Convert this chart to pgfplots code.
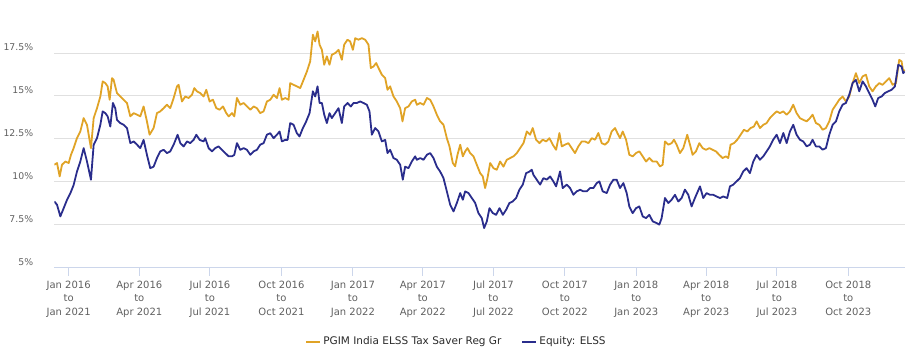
\documentclass[border=0pt]{standalone}
\usepackage{pgfplots}
\pgfplotsset{compat=1.18}
\usepackage{fontspec}
\setmainfont{DejaVu Sans}
\definecolor{gold}{RGB}{224,163,38}
\definecolor{navy}{RGB}{42,45,140}
\definecolor{gridc}{HTML}{E0E0E0}
\definecolor{axisc}{HTML}{CCD6EB}
\definecolor{labc}{HTML}{606060}
\definecolor{legc}{HTML}{2A2A2A}
\begin{document}
\begin{tikzpicture}
\path[use as bounding box] (-54.3pt,-88.5pt) rectangle (861.7pt,267.5pt);
\begin{axis}[
  at={(0,0)}, anchor=south west,
  scale only axis, width=850.7pt, height=247pt,
  xmin=-18.5, xmax=1077, ymin=5, ymax=19.4,
  axis x line*=bottom, axis y line*=left,
  x axis line style={draw=axisc, line width=1pt},
  y axis line style={draw=none},
  ytick={5,7.5,10,12.5,15,17.5},
  yticklabel={\pgfmathprintnumber{\tick}\%},
  ymajorgrids, grid style={draw=gridc, line width=1pt},
  ytick style={draw=none},
  /pgf/number format/assume math mode=true,
  yticklabel style={font=\fontsize{9.3}{10}\selectfont, text=labc, anchor=base east, inner sep=0pt, xshift=-13pt, yshift=2.5pt},
  xtick={0,91,182,274,366,456,547,639,731,821,912,1004},
  xticklabels={{Jan 2016\\to\\Jan 2021},{Apr 2016\\to\\Apr 2021},{Jul 2016\\to\\Jul 2021},{Oct 2016\\to\\Oct 2021},{Jan 2017\\to\\Jan 2022},{Apr 2017\\to\\Apr 2022},{Jul 2017\\to\\Jul 2022},{Oct 2017\\to\\Oct 2022},{Jan 2018\\to\\Jan 2023},{Apr 2018\\to\\Apr 2023},{Jul 2018\\to\\Jul 2023},{Oct 2018\\to\\Oct 2023}},
  xticklabel style={font=\fontsize{10}{13.7}\selectfont, text=labc, align=center, anchor=north, inner sep=0pt, yshift=-5pt},
  xtick style={draw=axisc, line width=1pt},
  tick align=outside, major tick length=8pt,
  legend columns=2,
  legend style={at={(axis description cs:0.4728,-0.3004)}, anchor=center, draw=none, fill=none,
    font=\fontsize{10.5}{12}\selectfont, text=legc,
    /tikz/every even column/.append style={column sep=18pt}},
  legend cell align=left,
  legend image code/.code={\draw[#1, line width=2pt] (0pt,0pt) -- (14pt,0pt);},
]
\addplot[gold, line width=1.8pt, line join=round] coordinates {
(-18.5,10.99) (-15,11.09) (-11.6,10.31) (-8.6,10.99) (-4.3,11.18) (0,11.09) (3,11.57) (6.4,11.96) (10.7,12.54) (15,12.93) (19.3,13.71) (23.6,13.32) (28.7,11.96) (32.2,13.71) (36.5,14.29) (40.8,14.97) (43.8,15.85) (47.2,15.75) (50.2,15.56) (52.8,14.78) (55.8,16.04) (57.9,15.94) (60,15.56) (62.2,15.17) (66.5,14.97) (70.8,14.78) (75.1,14.59) (79.4,13.81) (83.7,14.0) (88,13.91) (92.2,13.81) (96.5,14.39) (100.8,13.52) (104.2,12.74) (109.4,13.13) (113.7,14.0) (118,14.1) (122.3,14.29) (126.6,14.49) (130.8,14.29)
(135.2,14.88) (139.5,15.56) (141.6,15.65) (145.9,14.68) (150.2,14.97) (154.5,14.88) (158.8,15.07) (161.8,15.46) (165.2,15.27) (169.5,15.17) (173.8,14.97) (177.2,15.36) (181.5,14.68) (185.8,14.78) (190.1,14.29) (194.4,14.20) (198.7,14.39) (203,14.0) (206,13.81) (210.3,14.0) (213.3,13.81) (216.7,14.88) (221,14.49) (225.3,14.59) (229.6,14.39) (233.9,14.20) (238.2,14.39) (242.4,14.29) (246.7,14.0) (251,14.10) (255.3,14.68) (259.6,14.78) (263.9,15.07) (268.2,14.88) (271.6,15.46) (274.6,14.78) (278.9,14.88) (283.2,14.78) (285.3,15.75) (289.6,15.65)
(293.9,15.56) (298.2,15.46) (302.5,15.94) (306.8,16.43) (311.0,17.01) (314.5,18.57) (317.5,18.18) (320.5,18.76) (323.1,17.99) (326.1,17.69) (329.1,16.82) (332.5,17.31) (335.9,16.82) (338.9,17.40) (343.2,17.50) (347.5,17.69) (351.8,17.11) (354.8,17.99) (359.1,18.28) (362.5,18.18) (366,17.69) (369,18.37) (373.2,18.28) (377.5,18.37) (381.8,18.28) (386.1,17.99) (389.1,16.63) (392.6,16.72) (396,16.92) (399,16.63) (403.3,16.24) (407.6,16.04) (410.6,15.36) (414,15.56) (418.3,14.97) (422.6,14.68) (426.9,14.29) (429.9,13.52) (433.3,14.29) (437.6,14.39) (441.9,14.68) (446.2,14.78)
(448.4,14.49) (452.7,14.59) (457,14.49) (461.3,14.88) (465.5,14.78) (469.8,14.39) (474.1,13.91) (478.4,13.52) (482.7,13.32) (487,12.54) (490.4,12.06) (494.7,11.09) (497.7,10.90) (500.7,11.57) (504.2,12.16) (507.6,11.48) (510.6,11.77) (513.6,11.96) (517,11.67) (521.3,11.48) (525.6,10.99) (529.9,10.50) (533.3,10.31) (536.3,9.63) (539.3,10.21) (542.8,11.09) (547.1,10.79) (551.3,10.70) (555.6,11.18) (559.9,10.88) (564.2,11.28) (568.5,11.38) (572.8,11.48) (577.1,11.67) (581.4,11.96) (585.7,12.25) (590,12.93) (594.2,12.74)
(597.6,13.13) (601.9,12.45) (606.2,12.25) (610.5,12.45) (614.8,12.35) (619.1,12.54) (623.4,12.16) (627.7,11.86) (632,12.84) (635,12.06) (639.2,12.16) (643.5,12.25) (647.8,11.96) (652.1,11.67) (656.4,12.06) (660.7,12.35) (665,12.35) (669.3,12.25) (673.6,12.54) (677.9,12.45) (682.1,12.84) (686.4,12.25) (690.7,12.16) (695,12.35) (699.3,12.93) (703.6,13.13) (706.6,12.84) (710,12.54) (713.5,12.93) (717.8,12.45) (722.0,11.57) (726.3,11.48) (730.6,11.67) (734.9,11.77) (739.2,11.48) (743.5,11.18) (747.8,11.38) (752.1,11.18)
(757.2,11.18) (761.5,10.89) (764.9,10.99) (767.9,12.35) (772.2,12.16) (776.5,12.25) (779.5,12.45) (782.9,12.16) (787.2,11.67) (791.5,11.96) (796.6,12.74) (800.1,12.16) (803.5,11.57) (807.8,11.77) (812.1,12.25) (816.4,11.96) (820.7,11.86) (825,11.96) (829.3,11.86) (833.5,11.77) (837.8,11.57) (842.1,11.38) (846.4,11.48) (849.4,11.38) (852.4,12.16) (856.7,12.25) (861,12.45) (865.3,12.74) (869.6,13.03) (873.9,12.93) (878.2,13.13) (882.4,13.22) (885.9,13.52) (890.2,13.13) (894.5,13.32) (898.8,13.42) (903,13.71) (907.3,13.91)
(911.7,14.10) (916,14.0) (920.3,14.10) (924.6,13.91) (928.8,14.10) (933.1,14.49) (937.4,14.0) (941.7,13.71) (946,13.61) (950.3,13.52) (954.6,13.71) (958,13.91) (962.3,13.42) (966.6,13.32) (970.9,13.03) (975.2,13.13) (979.5,13.52) (983.8,14.20) (988.1,14.49) (992.3,14.78) (996.6,14.97) (1000.9,14.68) (1005.2,14.97) (1009.5,15.75) (1013.8,16.33) (1018.1,15.75) (1022.4,16.14) (1026.7,16.24) (1030.9,15.56) (1035.2,15.27) (1039.5,15.56) (1043.8,15.75) (1048.1,15.65) (1052.4,15.85) (1056.7,16.04) (1061,15.65) (1065.3,15.75) (1069.6,17.11) (1072.6,17.01) (1074.7,16.43) (1076.5,16.53)
};
\addlegendentry{PGIM India ELSS Tax Saver Reg Gr}
\addplot[navy, line width=1.8pt, line join=round] coordinates {
(-18.5,8.85) (-15,8.66) (-10.7,7.98) (-6.4,8.46) (-2.1,8.95) (2.1,9.32) (6.4,9.81) (10.7,10.59) (15,11.18) (19.3,11.96) (23.6,11.18) (28.7,10.12) (32.2,12.16) (36.5,12.54) (40.8,13.32) (43.8,14.10) (47.2,14.0) (50.2,13.81) (53.6,13.22) (57,14.59) (60,14.29) (62.2,13.61) (66.5,13.42) (70.8,13.32) (75.1,13.13) (79.4,12.25) (83.7,12.35) (88,12.16) (92.2,11.96) (96.5,12.44) (100.8,11.57) (105.1,10.79) (109.4,10.88) (113.7,11.38) (118,11.77) (122.3,11.86) (126.6,11.67) (130.8,11.77)
(135.2,12.16) (140.3,12.74) (143.8,12.25) (148.1,12.06) (152.4,12.35) (156.6,12.25) (160.9,12.44) (164.4,12.74) (168.7,12.44) (173.8,12.35) (175.9,12.54) (180.2,11.96) (184.5,11.77) (188.8,11.96) (193.1,12.06) (197.4,11.86) (201.7,11.67) (206,11.48) (210.3,11.48) (213.3,11.57) (216.7,12.25) (221,11.86) (225.3,11.96) (229.6,11.86) (233.9,11.57) (238.2,11.77) (242.4,11.86) (246.7,12.16) (251,12.25) (255.3,12.74) (259.6,12.83) (263.9,12.54) (268.2,12.74) (271.6,12.93) (274.6,12.35) (278.9,12.44) (281.9,12.44) (285.3,13.42) (289.6,13.32)
(293.9,12.83) (297.3,12.64) (301.6,13.13) (305.9,13.52) (310.2,14.0) (314.5,15.27) (317.5,14.97) (320.5,15.56) (323.1,14.59) (326.1,14.59) (329.1,13.91) (332.5,13.42) (335.9,14.0) (338.9,13.71) (343.2,14.0) (347.5,14.29) (351.8,13.42) (354.8,14.39) (359.1,14.59) (363.4,14.39) (366.8,14.59) (371.1,14.59) (375.4,14.68) (379.7,14.59) (384,14.49) (387.4,14.10) (390.4,12.74) (394.7,13.13) (399,12.93) (403.3,12.35) (407.6,12.44) (410.6,11.67) (414,11.86) (418.3,11.38) (422.6,11.28) (426.9,10.99) (430.3,10.12) (433.3,10.88) (437.6,10.79) (441.9,11.18) (446.2,11.48)
(448.4,11.28) (452.7,11.38) (457,11.28) (461.3,11.57) (465.5,11.67) (469.8,11.38) (474.1,10.88) (478.4,10.59) (482.7,10.21) (487,9.44) (491.3,8.66) (495.6,8.27) (499.9,8.76) (504.2,9.34) (507.6,8.95) (510.6,9.44) (514.9,9.34) (519.2,9.05) (523.5,8.76) (527.7,8.17) (532,7.88) (535,7.30) (538.5,7.69) (541.9,8.46) (546.2,8.17) (550.5,8.07) (554.8,8.46) (559.1,8.07) (563.4,8.37) (567.6,8.76) (571.9,8.85) (576.2,9.05) (580.5,9.54) (584.8,9.83) (589.1,10.50) (593.4,10.59) (596.4,10.70)
(598.5,10.40) (602.8,10.12) (607.1,9.83) (611.4,10.21) (615.7,10.12) (620,10.31) (624.2,10.02) (627.7,9.73) (632.8,10.60) (636.2,9.63) (641.4,9.83) (645.7,9.63) (650,9.24) (654.3,9.44) (658.6,9.53) (662.8,9.44) (667.1,9.44) (671.4,9.63) (675.7,9.63) (680,9.92) (683.4,10.02) (687.7,9.44) (692.9,9.34) (697.2,9.83) (701.5,10.12) (705.7,10.12) (710,9.63) (714.3,9.92) (718.6,9.34) (722,8.56) (726.3,8.17) (730.6,8.46) (734.9,8.56) (739.2,7.98) (743.5,7.88) (747.8,8.07) (752.1,7.69)
(757.2,7.59) (760.6,7.50) (763.6,7.88) (767.9,9.05) (772.2,8.76) (776.5,8.95) (780.8,9.24) (785.1,8.85) (789.4,9.05) (793.6,9.54) (797.9,9.24) (802.2,8.56) (806.5,9.05) (813,9.73) (817.2,9.05) (821.5,9.34) (825.8,9.24) (830.1,9.24) (834.4,9.14) (838.7,9.05) (843,9.14) (848.1,9.05) (851.6,9.73) (855.9,9.83) (860.1,10.02) (864.4,10.21) (868.7,10.60) (873,10.79) (877.3,10.50) (881.6,11.18) (885.9,11.57) (890.2,11.28) (894.5,11.48) (898.8,11.77) (903,12.06) (907.3,12.45)
(911.7,12.74) (916,12.25) (920.3,12.84) (924.6,12.25) (928.8,12.93) (933.1,13.32) (937.4,12.74) (941.7,12.45) (946,12.35) (950.3,12.06) (954.6,12.16) (958,12.45) (962.3,12.06) (966.6,12.06) (970.9,11.87) (975.2,11.96) (979.5,12.74) (983.8,13.32) (988.1,13.52) (992.3,14.10) (996.6,14.49) (1000.9,14.59) (1005.2,15.07) (1009.5,15.75) (1013.8,15.94) (1018.1,15.27) (1022.4,15.85) (1026.7,15.56) (1030.9,15.17) (1035.2,14.78) (1038.7,14.39) (1042.5,14.88) (1046.8,14.97) (1051.1,15.17) (1055.4,15.27) (1059.7,15.36) (1064,15.56) (1068.3,16.82) (1072.6,16.72) (1074.7,16.33) (1076.5,16.43)
};
\addlegendentry{Equity: ELSS}
\end{axis}
\end{tikzpicture}
\end{document}
